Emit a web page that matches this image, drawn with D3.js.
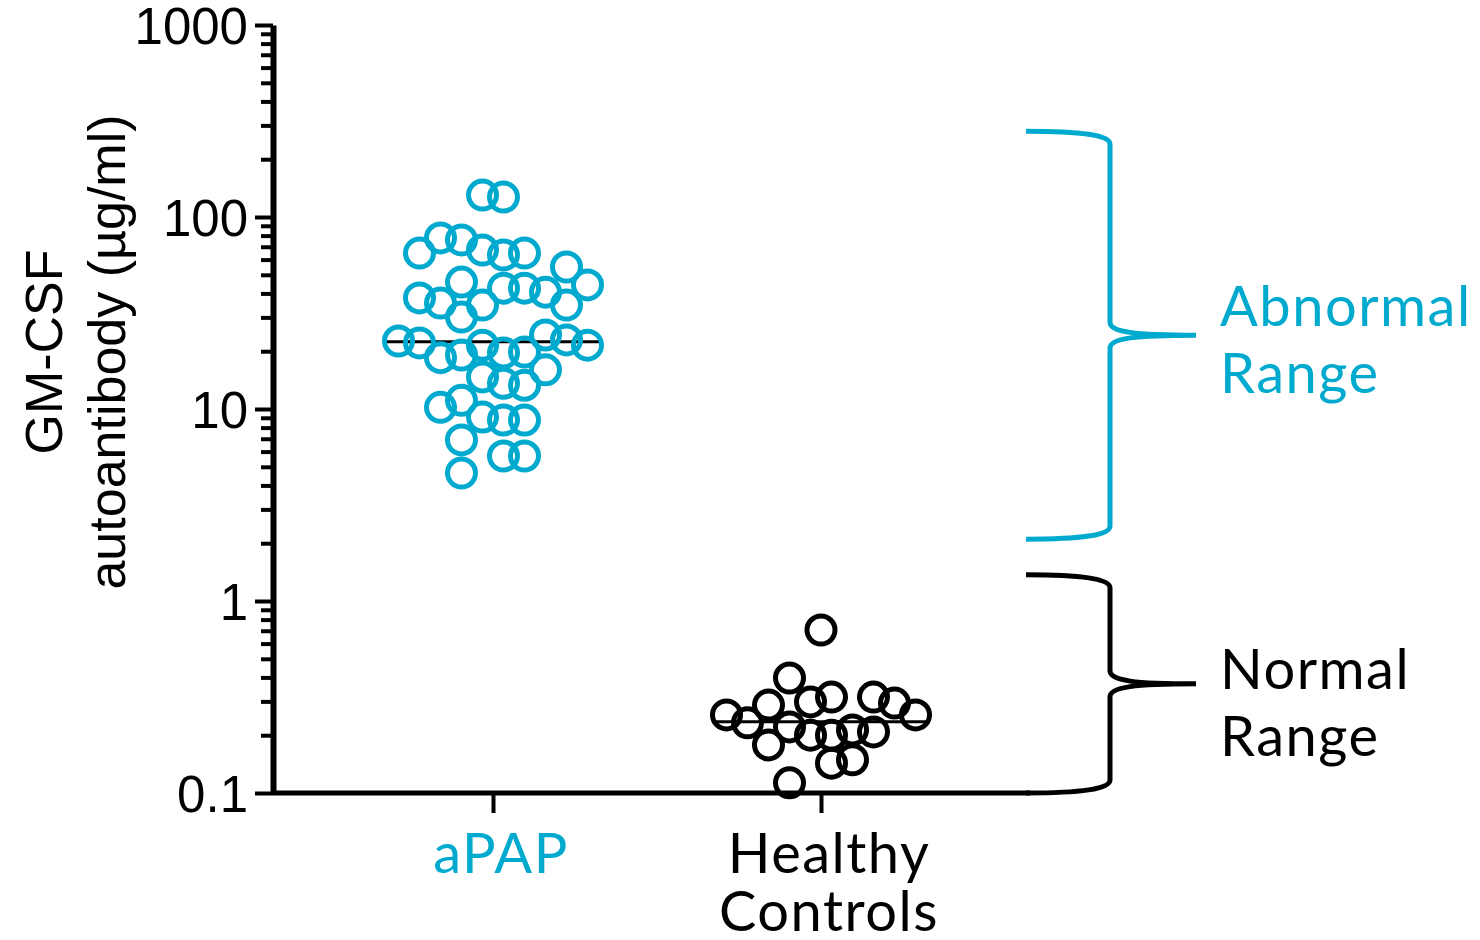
<!DOCTYPE html>
<html>
<head>
<meta charset="utf-8">
<script src="https://cdn.jsdelivr.net/npm/d3@7"></script>
<style>
body { margin: 0; background: #fff; }
.axis text { font-family: "Liberation Sans", Arial, sans-serif; font-size: 51px; fill: #000; }
.axis path, .axis line { stroke: #000; }
.cat, .range-label { font-family: Lato, "Open Sans", sans-serif; font-size: 56px; letter-spacing: 1.5px; }
</style>
</head>
<body>
<div id="chart"></div>
<script>
var categories = ["aPAP", "Healthy Controls"];
var catLines = [["aPAP"], ["Healthy", "Controls"]];

// µg/ml, with the column lane of each circle
var apapValues = [130, 127,
	64.9, 77.8, 75.9, 67.3, 63.4, 64.9, 54.9, 44.3,
	37.9, 35.6, 45.8, 30.1, 34.8, 42.6, 42.6, 40.6, 34.8,
	22.6, 22.1, 18.5, 19.1, 21.5, 19.6, 19.8, 24.3, 22.9, 21.5,
	14.7, 13.6, 13.3, 16.0,
	10.2, 11.1, 9.08, 8.76, 8.76,
	6.90, 5.69, 5.69, 4.64];
var apapLanes = [-0.5, 0.5,
	-3.5, -2.5, -1.5, -0.5, 0.5, 1.5, 3.5, 4.5,
	-3.5, -2.5, -1.5, -1.5, -0.5, 0.5, 1.5, 2.5, 3.5,
	-4.5, -3.5, -2.5, -1.5, -0.5, 0.5, 1.5, 2.5, 3.5, 4.5,
	-0.5, 0.5, 1.5, 2.5,
	-2.5, -1.5, -0.5, 0.5, 1.5,
	-1.5, 0.5, 1.5, -1.5];

var healthyValues = [0.706, 0.397, 0.255, 0.232, 0.287, 0.178, 0.221, 0.298, 0.200, 0.316,
	0.200, 0.213, 0.143, 0.149, 0.316, 0.208, 0.294, 0.255, 0.113];
var healthyLanes = [0, -1.5, -4.5, -3.5, -2.5, -2.5, -1.5, -0.5, -0.5, 0.5,
	0.5, 1.5, 0.5, 1.5, 2.5, 2.5, 3.5, 4.5, -1.5];

var medians = [22.4, 0.235];

var yTicks = [0.1, 1, 10, 100, 1000];
var yTickLabels = ["0.1", "1", "10", "100", "1000"];

var rangeNames = [["Abnormal", "Range"], ["Normal", "Range"]];
var rangeLow = [2.1, 0.1];
var rangeHigh = [280, 1.37];

var cyan = "#00a9ce";
var catColors = [cyan, "#000"];
var rangeColors = [cyan, "#000"];

var svg = d3.select("#chart").append("svg")
	.attr("width", 1480)
	.attr("height", 940);

var x0 = 273, xEnd = 1030;
var y = d3.scaleLog().domain([0.1, 1000]).range([793, 25]);
var x = d3.scalePoint().domain(categories).range([493, 821]);
var lane = d3.scaleLinear().domain([-1, 1]).range([-21, 21]);

// minor ticks
svg.append("g")
	.attr("class", "axis")
	.attr("transform", "translate(" + x0 + ",0)")
	.call(d3.axisLeft(y)
		.tickValues(y.ticks().filter(function(d) { return yTicks.indexOf(d) < 0; }))
		.tickSize(12)
		.tickSizeOuter(0)
		.tickFormat(""))
	.call(function(g) { g.select(".domain").remove(); })
	.selectAll("line").attr("stroke-width", 4);

// major ticks + axis line
var yAxis = svg.append("g")
	.attr("class", "axis")
	.attr("transform", "translate(" + x0 + ",0)")
	.call(d3.axisLeft(y)
		.tickValues(yTicks)
		.tickSize(18)
		.tickSizeOuter(0)
		.tickPadding(7)
		.tickFormat(function(d, i) { return yTickLabels[i]; }));
yAxis.selectAll("line").attr("stroke-width", 4);
yAxis.select(".domain").attr("stroke-width", 6);
yAxis.selectAll("text").attr("dy", "0.36em");

// x axis
var xAxis = svg.append("g")
	.attr("class", "axis")
	.attr("transform", "translate(0," + y(0.1) + ")")
	.call(d3.axisBottom(x).tickSize(20).tickSizeOuter(0).tickFormat(""));
xAxis.select(".domain")
	.attr("d", "M" + x0 + ",0H" + xEnd)
	.attr("stroke-width", 5);
xAxis.selectAll("line").attr("stroke-width", 4);

// category labels
categories.forEach(function(c, i) {
	var t = svg.append("text")
		.attr("class", "cat")
		.attr("text-anchor", "middle")
		.attr("fill", catColors[i]);
	catLines[i].forEach(function(s, j) {
		t.append("tspan")
			.attr("x", x(c) + 8)
			.attr("y", 873 + j * 58)
			.text(s);
	});
});

// y title
var title = svg.append("text")
	.attr("transform", "translate(0,352) rotate(-90)")
	.attr("text-anchor", "middle")
	.style("font-family", "'Liberation Sans', Arial, sans-serif")
	.style("font-size", "52px");
title.append("tspan").attr("x", 0).attr("y", 62).text("GM-CSF");
title.append("tspan").attr("x", 0).attr("y", 125).text("autoantibody (\u00b5g/ml)");

// medians
svg.selectAll(".median")
	.data(medians)
	.enter().append("line")
	.attr("class", "median")
	.attr("x1", function(d, i) { return x(categories[i]) - 106; })
	.attr("x2", function(d, i) { return x(categories[i]) + 106; })
	.attr("y1", function(d) { return y(d); })
	.attr("y2", function(d) { return y(d); })
	.attr("stroke", "#000")
	.attr("stroke-width", 3);

function points(values, lanes, cat, color) {
	svg.append("g")
		.selectAll("circle")
		.data(values)
		.enter().append("circle")
		.attr("cx", function(d, i) { return x(cat) + lane(lanes[i]); })
		.attr("cy", function(d) { return y(d); })
		.attr("r", 14)
		.attr("fill", "none")
		.attr("stroke", color)
		.attr("stroke-width", 5);
}
points(apapValues, apapLanes, categories[0], cyan);
points(healthyValues, healthyLanes, categories[1], "#000");

// braces
function bracePath(top, mid, bot, xa, xv, xt) {
	var r = 13;
	return "M" + xa + "," + top +
		"C" + (xa + 55) + "," + top + " " + xv + "," + (top + 4) + " " + xv + "," + (top + r) +
		"L" + xv + "," + (mid - r) +
		"C" + xv + "," + (mid - 3) + " " + (xv + 25) + "," + mid + " " + xt + "," + mid +
		"C" + (xv + 25) + "," + mid + " " + xv + "," + (mid + 3) + " " + xv + "," + (mid + r) +
		"L" + xv + "," + (bot - r) +
		"C" + xv + "," + (bot - 4) + " " + (xa + 55) + "," + bot + " " + xa + "," + bot;
}
var labelShift = [-9, 5];

rangeNames.forEach(function(n, i) {
	var top = y(rangeHigh[i]), bot = y(rangeLow[i]), mid = (top + bot) / 2;
	svg.append("path")
		.attr("d", bracePath(top, mid, bot, 1026, 1110, 1196))
		.attr("fill", "none")
		.attr("stroke", rangeColors[i])
		.attr("stroke-width", 5);
	var t = svg.append("text")
		.attr("class", "range-label")
		.attr("fill", rangeColors[i]);
	n.forEach(function(s, j) {
		t.append("tspan")
			.attr("x", 1220)
			.attr("y", mid + labelShift[i] + j * 67)
			.text(s);
	});
});
</script>
</body>
</html>
